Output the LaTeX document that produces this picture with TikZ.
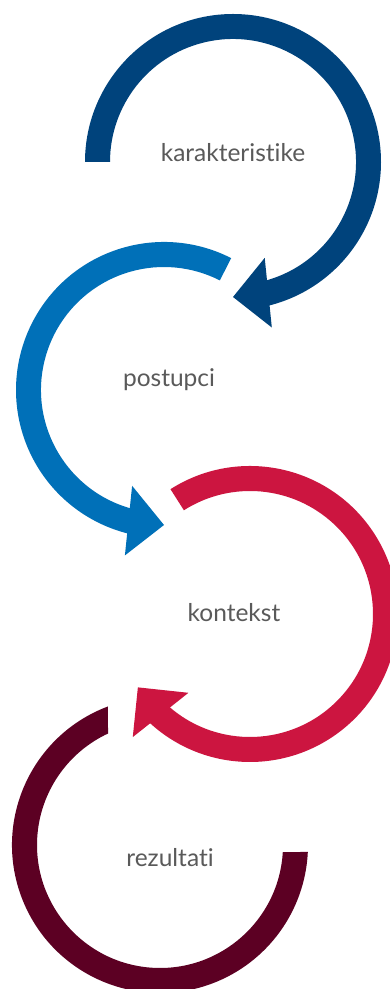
\documentclass[tikz,border=0pt]{standalone}
\usepackage{fontspec}
\setmainfont{Lato}[Ligatures=NoCommon]
\definecolor{cdarkblue}{RGB}{0,67,124}
\definecolor{cblue}{RGB}{0,112,184}
\definecolor{cred}{RGB}{204,21,64}
\definecolor{cmaroon}{RGB}{92,0,35}
\definecolor{ctext}{RGB}{90,90,90}
\tikzset{
  lbl/.style={anchor=base, text=ctext, inner sep=0pt, font=\fontsize{24.5}{28}\selectfont},
}
\begin{document}
\begin{tikzpicture}[x=1pt,y=1pt]
\clip (0,0) rectangle (390,989);
\fill[white] (0,0) rectangle (390,989);
\coordinate (c1) at (233,827);
\coordinate (c2) at (164,599);
\coordinate (c3) at (250,375);
\coordinate (c4) at (160,144);
% arc 1
\begin{scope}[shift={(c1)}]
\fill[cdarkblue] (180:148) arc[start angle=180,end angle=-76,radius=148] -- (-76:123) arc[start angle=-76,end angle=180,radius=123] -- cycle;
\fill[cdarkblue] (-71.7:101) -- (-90:135) -- (-76.8:170) -- cycle;
\end{scope}
% arc 2
\begin{scope}[shift={(c2)}]
\fill[cblue] (63:148) arc[start angle=63,end angle=256,radius=148] -- (256:123) arc[start angle=256,end angle=63,radius=123] -- cycle;
\fill[cblue] (251.6:101) -- (270:135) -- (256.7:170) -- cycle;
\end{scope}
% arc 3
\begin{scope}[shift={(c3)}]
\fill[cred] (122.5:148) arc[start angle=122.5,end angle=-133,radius=148] -- (-133:123) arc[start angle=-133,end angle=122.5,radius=123] -- cycle;
\fill[cred] (-128:100) -- (-146.8:134) -- (-133.6:170) -- cycle;
\end{scope}
% arc 4
\begin{scope}[shift={(c4)}]
\fill[cmaroon] (110.6:148) arc[start angle=110.6,end angle=357.3,radius=148] -- (356.7:123) arc[start angle=356.7,end angle=115,radius=123] -- cycle;
\end{scope}
\node[lbl] (t1) at (233,827) {karakteristike};
\node[lbl] (t2) at (169,602) {postupci};
\node[lbl] (t3) at (234,367) {kontekst};
\node[lbl] (t4) at (170,122) {rezultati};
\end{tikzpicture}
\end{document}
